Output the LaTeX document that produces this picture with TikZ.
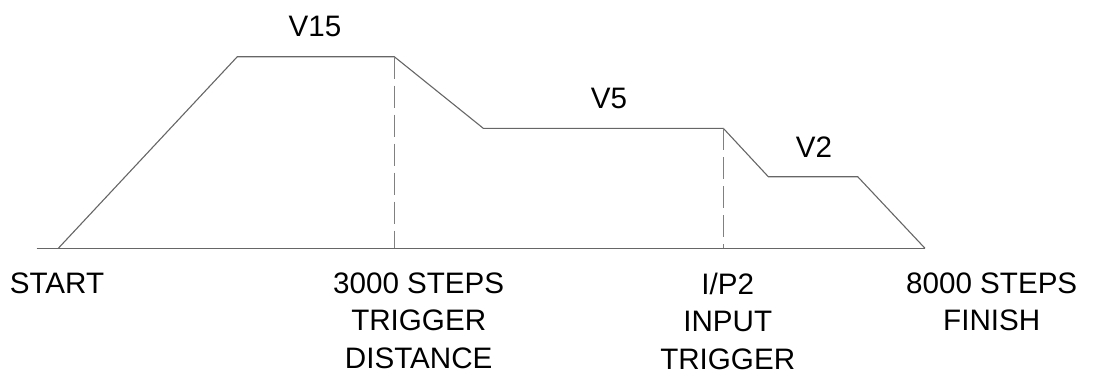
\documentclass[tikz,border=0pt]{standalone}
\usepackage{fontspec}
\setmainfont{Liberation Sans}
\usepackage{tikz}

\tikzset{
  prof/.style={draw=black!60, line width=1.1pt},
  trig/.style={draw=black!50, line width=0.8pt, dash pattern=on 22pt off 7pt},
  lbl/.style={inner sep=0pt, align=center, font=\fontsize{29.6pt}{37.5pt}\selectfont},
}

\begin{document}
\begin{tikzpicture}[x=1pt,y=-1pt]
        \useasboundingbox (0,0) rectangle (1119,373);

        %corners of the velocity profile
        \coordinate (o)  at (36.7,248.3);
        \coordinate (s)  at (58.3,248.3);
        \coordinate (p1) at (237.3,56.7);
        \coordinate (p2) at (394.3,56.7);
        \coordinate (q1) at (483.3,128.3);
        \coordinate (q2) at (723.3,128.3);
        \coordinate (r1) at (768.3,176.7);
        \coordinate (r2) at (857.7,176.7);
        \coordinate (f)  at (925,248.3);
        \coordinate (d1) at (394.3,248.3);
        \coordinate (d2) at (723.3,248.3);

        %profile and time axis
        \draw[prof] (o) -- (f);
        \draw[prof] (s) -- (p1) -- (p2) -- (q1) -- (q2) -- (r1) -- (r2) -- (f);

        %trigger lines
        \draw[trig] (p2) -- (d1);
        \draw[trig] (q2) -- (d2);

        \node[lbl] (v15) at (315,26)  {V15};
        \node[lbl] (v5)  at (609,98)  {V5};
        \node[lbl] (v2)  at (814,147) {V2};

        \node[lbl] (start) at (57,283) {START};
        \node[lbl, anchor=north] (dist) at (418.7,272.5) {3000 STEPS\\TRIGGER\\DISTANCE};
        \node[lbl, anchor=north] (ip2)  at (727.7,272.5) {I/P2\\INPUT\\TRIGGER};
        \node[lbl, anchor=north] (fin)  at (991.7,272.5) {8000 STEPS\\FINISH};
\end{tikzpicture}
\end{document}
